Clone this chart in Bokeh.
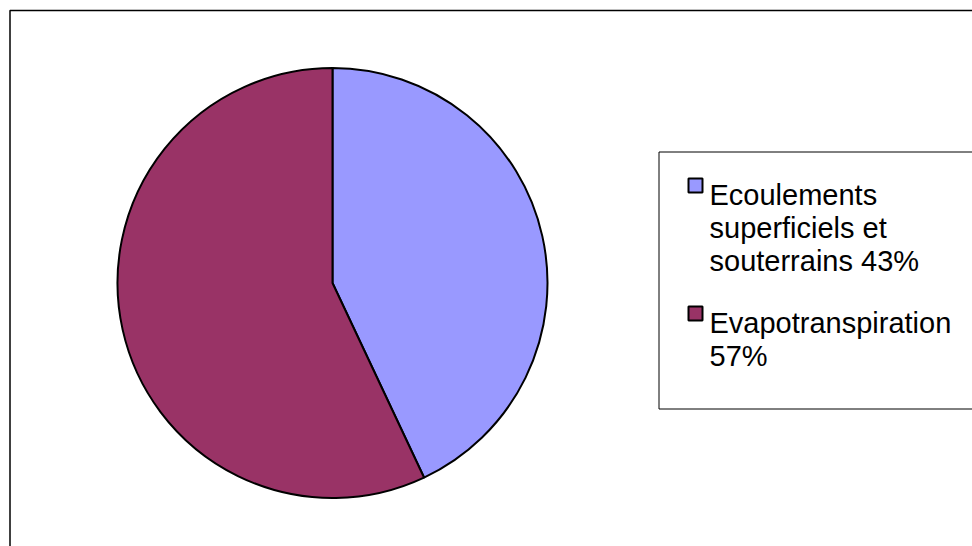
import math
from bokeh.plotting import figure
from bokeh.models import Range1d
from bokeh.core.properties import value
from bokeh.embed import file_html
from bokeh.resources import INLINE

# ---- data ----
categories = ["Ecoulements superficiels et souterrains", "Evapotranspiration"]
values = [43, 57]
colors = ["#9999FF", "#993366"]
legend_lines = [["Ecoulements", "superficiels et", "souterrains 43%"],
                ["Evapotranspiration", "57%"]]

W, H = 972, 546
def Y(y):
    return H - y

p = figure(width=W, height=H, x_range=Range1d(0, W), y_range=Range1d(0, H),
           toolbar_location=None, output_backend="svg", min_border=0,
           x_axis_type=None, y_axis_type=None)
p.grid.visible = False
p.outline_line_color = None
p.background_fill_color = "white"
p.border_fill_color = "white"

# outer chart border (only top/left visible)
p.quad(left=[9.5], right=[1100], top=[Y(10)], bottom=[-50],
       fill_color=None, line_color="black", line_width=1.5)

# pie
cx, cy, r = 332, 282.5, 215
total = sum(values)
cum = 0.0
starts, ends = [], []
for v in values:
    starts.append(math.pi / 2 - 2 * math.pi * cum / total)
    cum += v
    ends.append(math.pi / 2 - 2 * math.pi * cum / total)
p.wedge(x=[cx] * len(values), y=[Y(cy)] * len(values), radius=r,
        start_angle=starts, end_angle=ends, direction="clock",
        fill_color=colors, line_color="black", line_width=2)

# legend box
p.quad(left=[658.5], right=[1100], top=[Y(151.5)], bottom=[Y(408.5)],
       fill_color="white", line_color="black", line_width=1)

line_h = 33
first_base = [194, 322]
for i, lines in enumerate(legend_lines):
    b0 = first_base[i]
    p.rect(x=[695], y=[Y(b0 - 9)], width=14, height=14,
           fill_color=colors[i], line_color="black", line_width=2)
    xs = [709] * len(lines)
    ys = [Y(b0 + k * line_h) for k in range(len(lines))]
    p.text(x=xs, y=ys, text=lines, text_font=value("Liberation Sans"),
           text_font_size="29px", text_baseline="alphabetic",
           text_align="left", text_color="black")

open("out.html", "w").write(file_html(p, INLINE))
